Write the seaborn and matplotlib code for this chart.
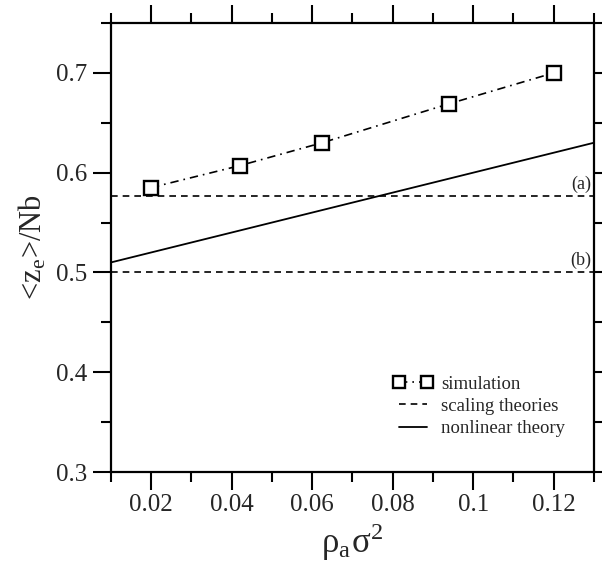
import matplotlib
matplotlib.use("Agg")
import matplotlib.pyplot as plt
from matplotlib.ticker import MultipleLocator, FixedLocator
from matplotlib.lines import Line2D
import seaborn as sns
import pandas as pd

# Simulation results: mean end height per chain length vs grafting density
sim_density = [0.02, 0.042, 0.0625, 0.094, 0.12]
sim_height = [0.585, 0.607, 0.630, 0.669, 0.700]

# Nonlinear theory prediction (straight line across the plotted range)
theory_density = [0.01, 0.13]
theory_height = [0.51, 0.63]

# Scaling-theory levels and their tags
scaling_levels = [0.577, 0.500]
scaling_tags = ["(a)", "(b)"]

x_ticks = [0.02, 0.04, 0.06, 0.08, 0.10, 0.12]
x_tick_labels = ["0.02", "0.04", "0.06", "0.08", "0.1", "0.12"]
y_ticks = [0.3, 0.4, 0.5, 0.6, 0.7]
y_tick_labels = ["0.3", "0.4", "0.5", "0.6", "0.7"]

sns.set_style("ticks")
plt.rcParams["font.family"] = ["Liberation Serif", "DejaVu Serif"]
plt.rcParams["mathtext.fontset"] = "stix"

fig = plt.figure(figsize=(6.02, 5.72), dpi=100)
ax = fig.add_axes([0.184, 0.1748, 0.8027, 0.785])

sim_df = pd.DataFrame({"density": sim_density, "height": sim_height})
theory_df = pd.DataFrame({"density": theory_density, "height": theory_height})

sns.lineplot(data=sim_df, x="density", y="height", ax=ax, color="black",
             lw=1.2, marker="s", markersize=9.5,
             markerfacecolor="white", markeredgecolor="black",
             markeredgewidth=1.7, zorder=3)
ax.lines[-1].set_dashes((5, 3, 1, 3))

sns.lineplot(data=theory_df, x="density", y="height", ax=ax, color="black",
             lw=1.3, zorder=2)

for level, tag in zip(scaling_levels, scaling_tags):
    ax.axhline(level, color="black", lw=1.2, dashes=(4, 3), zorder=1)
    ax.text(0.1293, level + 0.003, tag, ha="right", va="bottom", fontsize=13)

ax.set_xlim(0.01, 0.13)
ax.set_ylim(0.3, 0.75)

ax.xaxis.set_major_locator(FixedLocator(x_ticks))
ax.set_xticklabels(x_tick_labels)
ax.xaxis.set_minor_locator(MultipleLocator(0.01))
ax.yaxis.set_major_locator(FixedLocator(y_ticks))
ax.set_yticklabels(y_tick_labels)
ax.yaxis.set_minor_locator(MultipleLocator(0.05))

ax.tick_params(which="both", direction="out", top=True, right=True,
               width=1.5, color="black", labelsize=18, pad=4)
ax.tick_params(which="major", length=13)
ax.tick_params(which="minor", length=7)
ax.tick_params(axis="x", which="major", pad=3)
for side in ["left", "right", "top", "bottom"]:
    ax.spines[side].set_visible(True)
    ax.spines[side].set_linewidth(1.6)
    ax.spines[side].set_color("black")

ax.set_xlabel("ρ$_\\mathregular{a}$σ$^\\mathregular{2}$", fontsize=25, labelpad=4)
ax.set_ylabel("<z$_\\mathregular{e}$>/Nb", fontsize=22, labelpad=5)

h_sim = Line2D([], [], color="black", lw=1.2, dashes=(5, 3, 1, 3), marker="s",
               markersize=9, markerfacecolor="white", markeredgecolor="black",
               markeredgewidth=1.7)
h_scale = Line2D([], [], color="black", lw=1.2, dashes=(4, 3))
h_theory = Line2D([], [], color="black", lw=1.3)
ax.legend([h_sim, h_scale, h_theory],
          ["simulation", "scaling theories", "nonlinear theory"],
          loc="upper left", bbox_to_anchor=(0.585, 0.215), frameon=False,
          fontsize=13.5, numpoints=2, handlelength=2.1, handletextpad=0.45,
          labelspacing=0.28, borderpad=0, borderaxespad=0)

fig.savefig("out.png", dpi=100)
